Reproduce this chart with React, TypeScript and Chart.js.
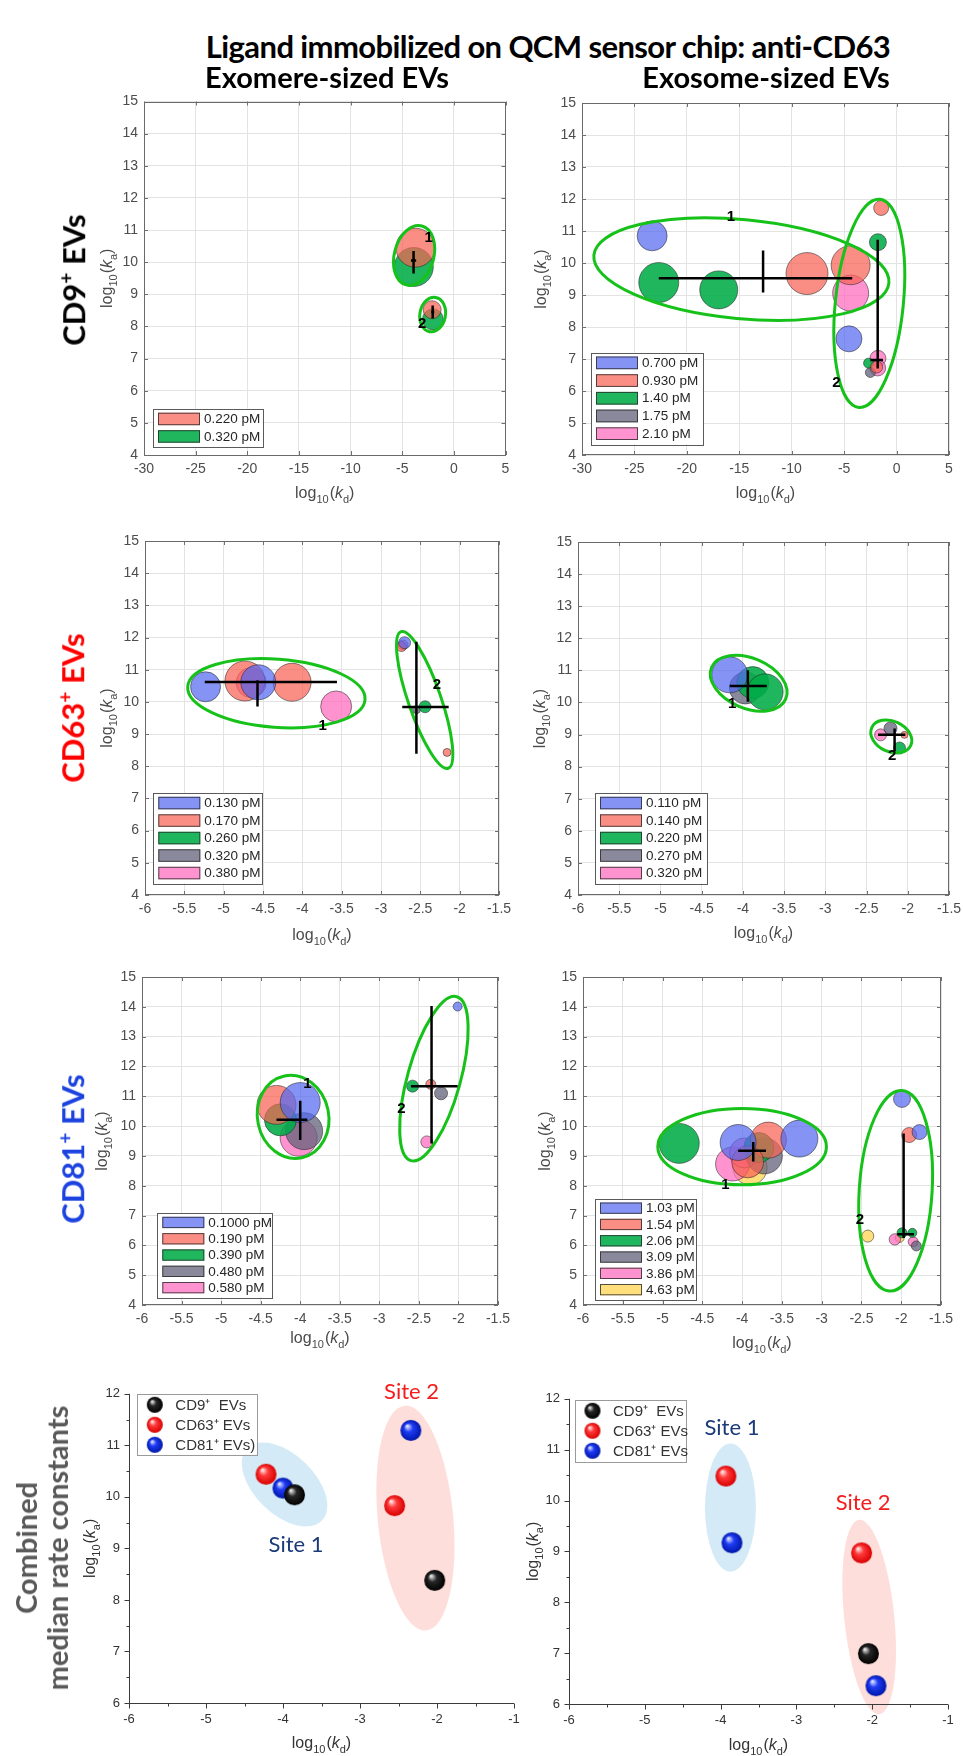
import React, { useEffect, useRef } from "react";
import { Chart, registerables } from "chart.js";

Chart.register(...registerables);

// ---------------- CD9+ EVs, exomere-sized ----------------
const cd9ExomereConc = ["0.220 pM", "0.320 pM"];
const cd9ExomereKd = [[-3.72, -2.1], [-3.88, -2.03]];
const cd9ExomereKa = [[10.45, 8.52], [9.85, 8.22]];
const cd9ExomereSize = [[19.5, 9], [19.5, 10.5]];
// [kd median, ka median, kd low, kd high, ka low, ka high]
const cd9ExomereMedian = [[-3.9, 10.05, -4.15, -3.65, 9.65, 10.35], [-2.05, 8.45, -2.2, -1.9, 8.25, 8.65]];
// [kd centre, ka centre, kd semi-axis, ka semi-axis, tilt deg]
const cd9ExomereSite = [[-3.85, 10.21, 1.91, 0.95, 15], [-2.05, 8.37, 1.24, 0.54, 10]];
const cd9ExomereTag = [["1", -2.43, 10.75], ["2", -3.06, 8.09]];

// ---------------- CD9+ EVs, exosome-sized ----------------
const cd9ExosomeConc = ["0.700 pM", "0.930 pM", "1.40 pM", "1.75 pM", "2.10 pM"];
const cd9ExosomeKd = [[-23.31, -4.54], [-8.54, -4.38, -1.47, -1.9], [-22.68, -16.96, -1.78, -2.67], [-2.5], [-4.38, -1.78, -1.8]];
const cd9ExosomeKa = [[10.85, 7.63], [9.67, 9.93, 11.72, 6.75], [9.39, 9.16, 10.65, 6.87], [6.58], [9.06, 7.02, 6.72]];
const cd9ExosomeSize = [[15, 13], [21, 19.5, 7.5, 6], [20, 19, 8.5, 5], [5], [18, 8, 8]];
const cd9ExosomeMedian = [[-12.73, 9.52, -22.68, -4.23, 9.08, 10.39], [-1.8, 6.97, -2.5, -1.3, 6.7, 10.73]];
const cd9ExosomeSite = [[-14.8, 9.81, 14.13, 1.55, 5.4], [-2.6, 8.74, 3.24, 3.27, 5.8]];
const cd9ExosomeTag = [["1", -15.8, 11.43], ["2", -5.73, 6.25]];

// ---------------- CD63+ EVs, exomere-sized ----------------
const cd63ExomereConc = ["0.130 pM", "0.170 pM", "0.260 pM", "0.320 pM", "0.380 pM"];
const cd63ExomereKd = [[-5.23, -4.56, -2.7], [-4.73, -4.13, -2.74, -2.16], [-2.44], [-2.55], [-4.65, -3.57, -2.72]];
const cd63ExomereKa = [[10.47, 10.61, 11.84], [10.65, 10.61, 11.72, 8.43], [9.85], [9.76], [10.6, 9.86, 11.77]];
const cd63ExomereSize = [[15, 17.5, 6], [20, 19, 5, 4], [6], [4], [15, 15.5, 5]];
const cd63ExomereMedian = [[-4.57, 10.62, -5.24, -3.56, 9.86, 10.67], [-2.55, 9.84, -2.73, -2.14, 8.39, 11.87]];
const cd63ExomereSite = [[-4.33, 10.27, 1.13, 1.06, 4.2], [-2.445, 10.06, 0.208, 2.245, -19]];
const cd63ExomereTag = [["1", -3.74, 9.27], ["2", -2.29, 10.54]];

// ---------------- CD63+ EVs, exosome-sized ----------------
const cd63ExosomeConc = ["0.110 pM", "0.140 pM", "0.220 pM", "0.270 pM", "0.320 pM"];
const cd63ExosomeKd = [[-4.16], [-2.04], [-3.88, -3.73, -2.1], [-3.97, -2.21], [-2.33]];
const cd63ExosomeKa = [[10.86], [8.99], [10.62, 10.33, 8.58], [10.45, 9.19], [8.99]];
const cd63ExosomeSize = [[18], [3.5], [16, 18, 6], [16, 6.5], [6]];
const cd63ExosomeMedian = [[-3.94, 10.51, -4.16, -3.71, 10.02, 11.0], [-2.16, 8.99, -2.36, -2.03, 8.48, 9.19]];
const cd63ExosomeSite = [[-3.93, 10.6, 0.489, 0.784, 23], [-2.2, 8.94, 0.26, 0.478, 24.5]];
const cd63ExosomeTag = [["1", -4.13, 9.97], ["2", -2.19, 8.35]];

// ---------------- CD81+ EVs, exomere-sized ----------------
const cd81ExomereConc = ["0.1000 pM", "0.190 pM", "0.390 pM", "0.480 pM", "0.580 pM"];
const cd81ExomereKd = [[-4.0, -2.01], [-4.3, -2.35], [-4.25, -2.58], [-3.95, -2.22], [-4.02, -2.4]];
const cd81ExomereKa = [[10.79, 14.01], [10.71, 11.4], [10.21, 11.34], [9.83, 11.1], [9.61, 9.47]];
const cd81ExomereSize = [[20, 4.5], [19.5, 5], [16, 6], [18.5, 6.5], [18.5, 6]];
const cd81ExomereMedian = [[-4.0, 10.21, -4.3, -3.91, 9.53, 10.85], [-2.34, 11.34, -2.6, -2.01, 9.42, 14.03]];
const cd81ExomereSite = [[-4.09, 10.31, 0.45, 1.4, -12], [-2.31, 11.59, 0.334, 2.855, 15.6]];
const cd81ExomereTag = [["1", -3.91, 11.43], ["2", -2.72, 10.57]];

// ---------------- CD81+ EVs, exosome-sized ----------------
const cd81ExosomeConc = ["1.03 pM", "1.54 pM", "2.06 pM", "3.09 pM", "3.86 pM", "4.63 pM"];
const cd81ExosomeKd = [[-4.05, -3.28, -1.99, -1.77], [-3.67, -3.93, -1.9], [-4.79, -3.79, -1.99, -1.86], [-3.72, -1.81], [-4.12, -3.97, -2.08, -1.85], [-3.9, -2.42, -2.02]];
const cd81ExosomeKa = [[9.45, 9.58, 10.91, 9.8], [9.53, 8.8, 9.7], [9.42, 9.28, 6.42, 6.42], [9.0, 5.98], [8.73, 9.1, 6.2, 6.12], [8.6, 6.31, 6.25]];
const cd81ExosomeSize = [[18, 18.5, 8.5, 7.5], [18, 16, 7.5], [20, 15, 5, 4.5], [18, 5], [17, 15, 5.7, 5], [17, 6, 4.5]];
const cd81ExosomeMedian = [[-3.86, 9.17, -4.05, -3.7, 8.81, 9.47], [-1.97, 6.37, -2.05, -1.84, 6.25, 9.75]];
const cd81ExosomeSite = [[-4.0, 9.31, 1.06, 1.28, 0], [-2.07, 7.83, 0.458, 3.37, 3.6]];
const cd81ExosomeTag = [["1", -4.21, 8.04], ["2", -2.52, 6.86]];

// ---------------- Combined median rate constants ----------------
const exomereMarkers = ["CD9\u207A  EVs", "CD63\u207A EVs", "CD81\u207A EVs)"];
const exomereMedianKd = [[-3.85, -2.03], [-4.22, -2.55], [-4.0, -2.34]];
const exomereMedianKa = [[10.04, 8.38], [10.44, 9.83], [10.17, 11.29]];
const exomereSites = [[-3.98, 10.24, 0.675, 0.58, 44], [-2.28, 9.59, 0.49, 2.19, -5.5]];
const exomereSiteNames = [["Site 1", -3.83, 9.06], ["Site 2", -2.33, 12.04]];

const exosomeMarkers = ["CD9\u207A  EVs", "CD63\u207A EVs", "CD81\u207A EVs"];
const exosomeMedianKd = [[-2.05], [-3.93, -2.14], [-3.85, -1.95]];
const exosomeMedianKa = [[6.99], [10.48, 8.97], [9.17, 6.36]];
const exosomeSites = [[-3.87, 9.86, 0.336, 1.26, 0], [-2.04, 7.71, 0.33, 1.92, -5.9]];
const exosomeSiteNames = [["Site 1", -3.85, 11.42], ["Site 2", -2.12, 9.95]];

// ---------------- styles ----------------
const BLUE = "rgba(85,105,240,0.72)";
const SALMON = "rgba(248,98,85,0.72)";
const GREEN = "rgba(0,172,72,0.88)";
const GRAY = "rgba(98,98,122,0.75)";
const PINK = "rgba(255,105,190,0.72)";
const YELLOW = "rgba(255,212,80,0.75)";
const FIVE = [BLUE, SALMON, GREEN, GRAY, PINK];
const SIX = [BLUE, SALMON, GREEN, GRAY, PINK, YELLOW];
const SPHERES = [
  { hi: "#e6e6e6", mid: "#262626", dark: "#000000" },
  { hi: "#ffe6e6", mid: "#ff3a3a", dark: "#d80000" },
  { hi: "#dfe4ff", mid: "#1f3cf5", dark: "#0016a8" },
];
const SITE_FILLS = ["rgba(190,222,242,0.65)", "rgba(252,200,194,0.6)"];
const SITE_TEXT = ["#1b3a78", "#f41c1c"];
const SANS = '"Liberation Sans", Arial, Helvetica, sans-serif';
const PAD_L = 64, PAD_T = 16, PAD_R = 16, PAD_B = 56;

const fmtTick = (v: number) => String(Math.round(v * 10) / 10);

function drawLogTitle(ctx, cx, cy, sub, rotated, color) {
  ctx.save();
  ctx.translate(cx, cy);
  if (rotated) ctx.rotate(-Math.PI / 2);
  const parts = [
    ["log", `16px ${SANS}`, 0],
    ["10", `11px ${SANS}`, 5],
    ["(", `16px ${SANS}`, 0],
    ["k", `italic 16px ${SANS}`, 0],
    [sub, `11px ${SANS}`, 5],
    [")", `16px ${SANS}`, 0],
  ];
  let total = 0;
  const widths = parts.map(([t, f]) => {
    ctx.font = f;
    const w = ctx.measureText(t).width + (t === "10" ? 1 : 0);
    total += w;
    return w;
  });
  let x = -total / 2;
  ctx.fillStyle = color;
  ctx.textBaseline = "alphabetic";
  ctx.textAlign = "left";
  parts.forEach(([t, f, dy], i) => {
    ctx.font = f;
    ctx.fillText(t, x, 5 + (dy as number));
    x += widths[i];
  });
  ctx.restore();
}

function ellipsePath(ctx, xs, ys, e) {
  const [cx, cy, rx, ry, ang] = e;
  const px = xs.getPixelForValue(cx);
  const py = ys.getPixelForValue(cy);
  const prx = Math.abs(xs.getPixelForValue(cx + rx) - px);
  const pry = Math.abs(ys.getPixelForValue(cy + ry) - py);
  ctx.beginPath();
  ctx.ellipse(px, py, prx, pry, (ang * Math.PI) / 180, 0, Math.PI * 2);
}

function paintSphere(ctx, x, y, r, pal) {
  const g = ctx.createRadialGradient(x - r * 0.35, y - r * 0.42, r * 0.06, x, y, r);
  g.addColorStop(0, pal.hi);
  g.addColorStop(0.38, pal.mid);
  g.addColorStop(1, pal.dark);
  ctx.fillStyle = g;
  ctx.beginPath();
  ctx.arc(x, y, r, 0, Math.PI * 2);
  ctx.fill();
}

function sphereImage(pal, r) {
  const c = document.createElement("canvas");
  c.width = r * 2 + 2;
  c.height = r * 2 + 2;
  paintSphere(c.getContext("2d"), r + 1, r + 1, r, pal);
  return c;
}

function matlabDecor(p) {
  return {
    id: "matlabDecor",
    beforeDatasetsDraw(chart) {
      const { ctx, chartArea: a, scales } = chart;
      const xs = scales.x, ys = scales.y;
      ctx.save();
      ctx.strokeStyle = "#707070";
      ctx.lineWidth = 1;
      ctx.beginPath();
      xs.ticks.forEach((t) => {
        const px = Math.round(xs.getPixelForValue(t.value)) + 0.5;
        ctx.moveTo(px, a.bottom); ctx.lineTo(px, a.bottom - 4);
        ctx.moveTo(px, a.top); ctx.lineTo(px, a.top + 4);
      });
      ys.ticks.forEach((t) => {
        const py = Math.round(ys.getPixelForValue(t.value)) + 0.5;
        ctx.moveTo(a.left, py); ctx.lineTo(a.left + 4, py);
        ctx.moveTo(a.right, py); ctx.lineTo(a.right - 4, py);
      });
      ctx.stroke();
      ctx.strokeStyle = "#6a6a6a";
      ctx.strokeRect(Math.round(a.left) + 0.5, Math.round(a.top) + 0.5, Math.round(a.right - a.left) - 1, Math.round(a.bottom - a.top) - 1);
      ctx.restore();
    },
    afterDatasetsDraw(chart) {
      const { ctx, chartArea: a, scales } = chart;
      const xs = scales.x, ys = scales.y;
      ctx.save();
      ctx.strokeStyle = "#16c21a";
      ctx.lineWidth = 3;
      p.sites.forEach((e) => { ellipsePath(ctx, xs, ys, e); ctx.stroke(); });
      ctx.strokeStyle = "#000";
      ctx.lineWidth = 2.5;
      p.medians.forEach(([mx, my, x1, x2, y1, y2]) => {
        ctx.beginPath();
        ctx.moveTo(xs.getPixelForValue(x1), ys.getPixelForValue(my));
        ctx.lineTo(xs.getPixelForValue(x2), ys.getPixelForValue(my));
        ctx.moveTo(xs.getPixelForValue(mx), ys.getPixelForValue(y1));
        ctx.lineTo(xs.getPixelForValue(mx), ys.getPixelForValue(y2));
        ctx.stroke();
      });
      ctx.fillStyle = "#000";
      ctx.font = `bold 15px ${SANS}`;
      ctx.textAlign = "center";
      ctx.textBaseline = "middle";
      p.tags.forEach(([t, x, y]) => ctx.fillText(t, xs.getPixelForValue(x), ys.getPixelForValue(y)));
      const [offX, offY, w, pitch] = p.legend;
      const n = p.conc.length;
      const h = n * pitch + 3;
      const left = a.left + offX;
      const top = a.bottom - offY - h;
      ctx.fillStyle = "#fff";
      ctx.fillRect(left, top, w, h);
      ctx.strokeStyle = "#5a5a5a";
      ctx.lineWidth = 1;
      ctx.strokeRect(Math.round(left) + 0.5, Math.round(top) + 0.5, Math.round(w), Math.round(h));
      ctx.font = `13.5px ${SANS}`;
      ctx.textAlign = "left";
      ctx.textBaseline = "middle";
      p.conc.forEach((label, i) => {
        const cy = top + 1.5 + pitch * (i + 0.5);
        const sh = pitch - 5;
        ctx.fillStyle = p.colors[i];
        ctx.fillRect(left + 5, cy - sh / 2, 42, sh);
        ctx.strokeStyle = "rgba(40,40,40,0.8)";
        ctx.strokeRect(left + 5.5, cy - sh / 2 + 0.5, 41, sh - 1);
        ctx.fillStyle = "#262626";
        ctx.fillText(label, left + 51, cy + 0.5);
      });
      drawLogTitle(ctx, (a.left + a.right) / 2, a.bottom + p.titles[0], "d", false, "#4a4a4a");
      drawLogTitle(ctx, a.left - p.titles[1], (a.top + a.bottom) / 2, "a", true, "#4a4a4a");
      ctx.restore();
    },
  };
}

function combinedDecor(p, legendIcons) {
  return {
    id: "combinedDecor",
    beforeDatasetsDraw(chart) {
      const { ctx, scales } = chart;
      ctx.save();
      p.sites.forEach((e, i) => {
        ellipsePath(ctx, scales.x, scales.y, e);
        ctx.fillStyle = SITE_FILLS[i];
        ctx.fill();
      });
      ctx.restore();
    },
    afterDatasetsDraw(chart) {
      const { ctx, chartArea: a, scales } = chart;
      const xs = scales.x, ys = scales.y;
      ctx.save();
      ctx.strokeStyle = "#3a3a3a";
      ctx.lineWidth = 1;
      ctx.beginPath();
      const L = Math.round(a.left) + 0.5, B = Math.round(a.bottom) + 0.5;
      ctx.moveTo(L, a.top); ctx.lineTo(L, B); ctx.lineTo(a.right, B);
      for (let v = p.x[0]; v <= p.x[1] + 1e-9; v += 0.5) {
        const px = Math.round(xs.getPixelForValue(v)) + 0.5;
        const major = Math.abs(v - Math.round(v)) < 1e-6;
        ctx.moveTo(px, B); ctx.lineTo(px, B + (major ? 5 : 3));
      }
      for (let v = p.y[0]; v <= p.y[1] + 1e-9; v += 0.5) {
        const py = Math.round(ys.getPixelForValue(v)) + 0.5;
        const major = Math.abs(v - Math.round(v)) < 1e-6;
        ctx.moveTo(L, py); ctx.lineTo(L - (major ? 5 : 3), py);
      }
      ctx.stroke();
      ctx.font = `22px Lato, "Open Sans", sans-serif`;
      ctx.textAlign = "center";
      ctx.textBaseline = "middle";
      p.siteNames.forEach(([t, x, y], i) => {
        ctx.fillStyle = SITE_TEXT[i];
        ctx.fillText(t, xs.getPixelForValue(x), ys.getPixelForValue(y));
      });
      const [offX, offTop, w, h] = p.legend;
      const left = a.left + offX, top = a.top + offTop;
      ctx.fillStyle = "#fff";
      ctx.fillRect(left, top, w, h);
      ctx.strokeStyle = "#9a9a9a";
      ctx.strokeRect(Math.round(left) + 0.5, Math.round(top) + 0.5, w, h);
      ctx.font = `15px ${SANS}`;
      ctx.textAlign = "left";
      p.markers.forEach((label, i) => {
        const cy = top + 11 + 20 * i;
        ctx.drawImage(legendIcons[i], left + 17.5 - legendIcons[i].width / 2, cy - legendIcons[i].height / 2);
        ctx.fillStyle = "#333";
        ctx.fillText(label, left + 38, cy + 1);
      });
      drawLogTitle(ctx, (a.left + a.right) / 2, a.bottom + p.titles[0], "d", false, "#333");
      drawLogTitle(ctx, a.left - p.titles[1], (a.top + a.bottom) / 2, "a", true, "#333");
      ctx.restore();
    },
  };
}

function axisOptions(range, isX, style) {
  const matlab = style === "matlab";
  return {
    type: "linear",
    min: range[0],
    max: range[1],
    ticks: {
      stepSize: range[2],
      callback: fmtTick,
      autoSkip: false,
      maxRotation: 0,
      font: { family: SANS, size: matlab ? 14 : 13 },
      color: matlab ? "#4d4d4d" : "#333",
      padding: matlab ? 6 : 9,
    },
    grid: { display: matlab, color: "#e3e3e3", drawTicks: false },
    border: { display: false },
    afterFit: (s) => {
      if (isX) s.height = PAD_B;
      else s.width = PAD_L;
    },
  };
}

function baseOptions(p, style) {
  return {
    responsive: false,
    animation: false,
    devicePixelRatio: 1,
    events: [],
    layout: { padding: { top: PAD_T, right: PAD_R, left: 0, bottom: 0 } },
    plugins: { legend: { display: false }, tooltip: { enabled: false } },
    scales: { x: axisOptions(p.x, true, style), y: axisOptions(p.y, false, style) },
  };
}

function matlabConfig(p) {
  const datasets = p.conc.map((label, i) => ({
    label,
    data: p.kd[i].map((x, j) => ({ x, y: p.ka[i][j], r: p.size[i][j] })),
    backgroundColor: p.colors[i],
    borderColor: "rgba(40,40,40,0.55)",
    borderWidth: 1,
  }));
  return { type: "bubble", data: { datasets }, options: baseOptions(p, "matlab"), plugins: [matlabDecor(p)] };
}

function combinedConfig(p) {
  const icons = SPHERES.map((s) => sphereImage(s, 8));
  const datasets = p.markers.map((label, i) => ({
    label,
    data: p.kd[i].map((x, j) => ({ x, y: p.ka[i][j] })),
    pointStyle: sphereImage(SPHERES[i], 10.5),
    pointRadius: 10.5,
    showLine: false,
  }));
  return { type: "scatter", data: { datasets }, options: baseOptions(p, "combined"), plugins: [combinedDecor(p, icons)] };
}

const PANELS = [
  { kind: "m", area: [144, 97, 510, 455], x: [-30, 5, 5], y: [4, 15, 1], conc: cd9ExomereConc, kd: cd9ExomereKd, ka: cd9ExomereKa, size: cd9ExomereSize, medians: cd9ExomereMedian, sites: cd9ExomereSite, tags: cd9ExomereTag, colors: [SALMON, GREEN], legend: [9, 8.3, 109.5, 17.5], titles: [38, 37] },
  { kind: "m", area: [582, 97, 955, 455], x: [-30, 5, 5], y: [4, 15, 1], conc: cd9ExosomeConc, kd: cd9ExosomeKd, ka: cd9ExosomeKa, size: cd9ExosomeSize, medians: cd9ExosomeMedian, sites: cd9ExosomeSite, tags: cd9ExosomeTag, colors: FIVE, legend: [9, 11, 112, 17.7], titles: [38, 41] },
  { kind: "m", area: [145, 536, 504, 895], x: [-6, -1.5, 0.5], y: [4, 15, 1], conc: cd63ExomereConc, kd: cd63ExomereKd, ka: cd63ExomereKa, size: cd63ExomereSize, medians: cd63ExomereMedian, sites: cd63ExomereSite, tags: cd63ExomereTag, colors: FIVE, legend: [8.3, 11.7, 109, 17.5], titles: [40, 38] },
  { kind: "m", area: [578, 539, 952, 895], x: [-6, -1.5, 0.5], y: [4, 15, 1], conc: cd63ExosomeConc, kd: cd63ExosomeKd, ka: cd63ExosomeKa, size: cd63ExosomeSize, medians: cd63ExosomeMedian, sites: cd63ExosomeSite, tags: cd63ExosomeTag, colors: FIVE, legend: [17, 11.7, 112, 17.5], titles: [38, 38] },
  { kind: "m", area: [142, 972, 503, 1305], x: [-6, -1.5, 0.5], y: [4, 15, 1], conc: cd81ExomereConc, kd: cd81ExomereKd, ka: cd81ExomereKa, size: cd81ExomereSize, medians: cd81ExomereMedian, sites: cd81ExomereSite, tags: cd81ExomereTag, colors: FIVE, legend: [15.3, 7.7, 115, 16.3], titles: [33, 40] },
  { kind: "m", area: [583, 972, 946, 1305], x: [-6, -1.5, 0.5], y: [4, 15, 1], conc: cd81ExosomeConc, kd: cd81ExosomeKd, ka: cd81ExosomeKa, size: cd81ExosomeSize, medians: cd81ExosomeMedian, sites: cd81ExosomeSite, tags: cd81ExosomeTag, colors: SIX, legend: [12, 5.7, 101, 16.3], titles: [38, 38] },
  { kind: "c", area: [129, 1393, 514, 1703], x: [-6, -1, 1], y: [6, 12, 1], markers: exomereMarkers, kd: exomereMedianKd, ka: exomereMedianKa, sites: exomereSites, siteNames: exomereSiteNames, legend: [8.3, 0, 120, 61], titles: [40, 39] },
  { kind: "c", area: [569, 1398, 948, 1704], x: [-6, -1, 1], y: [6, 12, 1], markers: exosomeMarkers, kd: exosomeMedianKd, ka: exosomeMedianKa, sites: exosomeSites, siteNames: exosomeSiteNames, legend: [6, 1, 111, 62], titles: [41, 36] },
];

function Panel({ p }) {
  const ref = useRef<HTMLCanvasElement | null>(null);
  const [l, t, r, b] = p.area;
  const W = r - l + PAD_L + PAD_R;
  const H = b - t + PAD_T + PAD_B;
  useEffect(() => {
    const cfg = p.kind === "m" ? matlabConfig(p) : combinedConfig(p);
    const chart = new Chart(ref.current as HTMLCanvasElement, cfg as any);
    return () => chart.destroy();
  }, []);
  return (
    <canvas
      ref={ref}
      width={W}
      height={H}
      style={{ position: "absolute", left: l - PAD_L, top: t - PAD_T, width: W, height: H }}
    />
  );
}

const HEAD = { fontFamily: "Lato, 'Open Sans', sans-serif", fontWeight: 700, whiteSpace: "nowrap" as const };

function Centered({ cx, cy, size, color = "#000", rotate = false, spacing = 0, children }) {
  return (
    <div
      style={{
        ...HEAD,
        position: "absolute",
        left: cx,
        top: cy,
        fontSize: size,
        lineHeight: 1.1,
        letterSpacing: spacing,
        color,
        textAlign: "center",
        transform: `translate(-50%,-50%)${rotate ? " rotate(-90deg)" : ""}`,
      }}
    >
      {children}
    </div>
  );
}

const SUP = { fontSize: "0.62em", verticalAlign: "0.65em" };

export default function App() {
  return (
    <div style={{ position: "absolute", left: 0, top: 0, width: 963, height: 1756, background: "#fff", overflow: "hidden" }}>
      {PANELS.map((p, i) => (
        <Panel key={i} p={p} />
      ))}
      <Centered cx={548} cy={46} size={31} spacing={-0.6}>Ligand immobilized on QCM sensor chip: anti-CD63</Centered>
      <Centered cx={327} cy={77} size={29}>Exomere-sized EVs</Centered>
      <Centered cx={766} cy={77} size={29}>Exosome-sized EVs</Centered>
      <Centered cx={73} cy={280} size={31} rotate>
        CD9<span style={SUP}>+</span> EVs
      </Centered>
      <Centered cx={72} cy={708} size={31} color="#ff0000" rotate>
        CD63<span style={SUP}>+</span> EVs
      </Centered>
      <Centered cx={72} cy={1149} size={31} color="#1c43e0" rotate>
        CD81<span style={SUP}>+</span> EVs
      </Centered>
      <Centered cx={41} cy={1548} size={29} color="#595959" rotate>
        <div style={{ lineHeight: "31px" }}>Combined</div>
        <div style={{ lineHeight: "31px" }}>median rate constants</div>
      </Centered>
    </div>
  );
}
